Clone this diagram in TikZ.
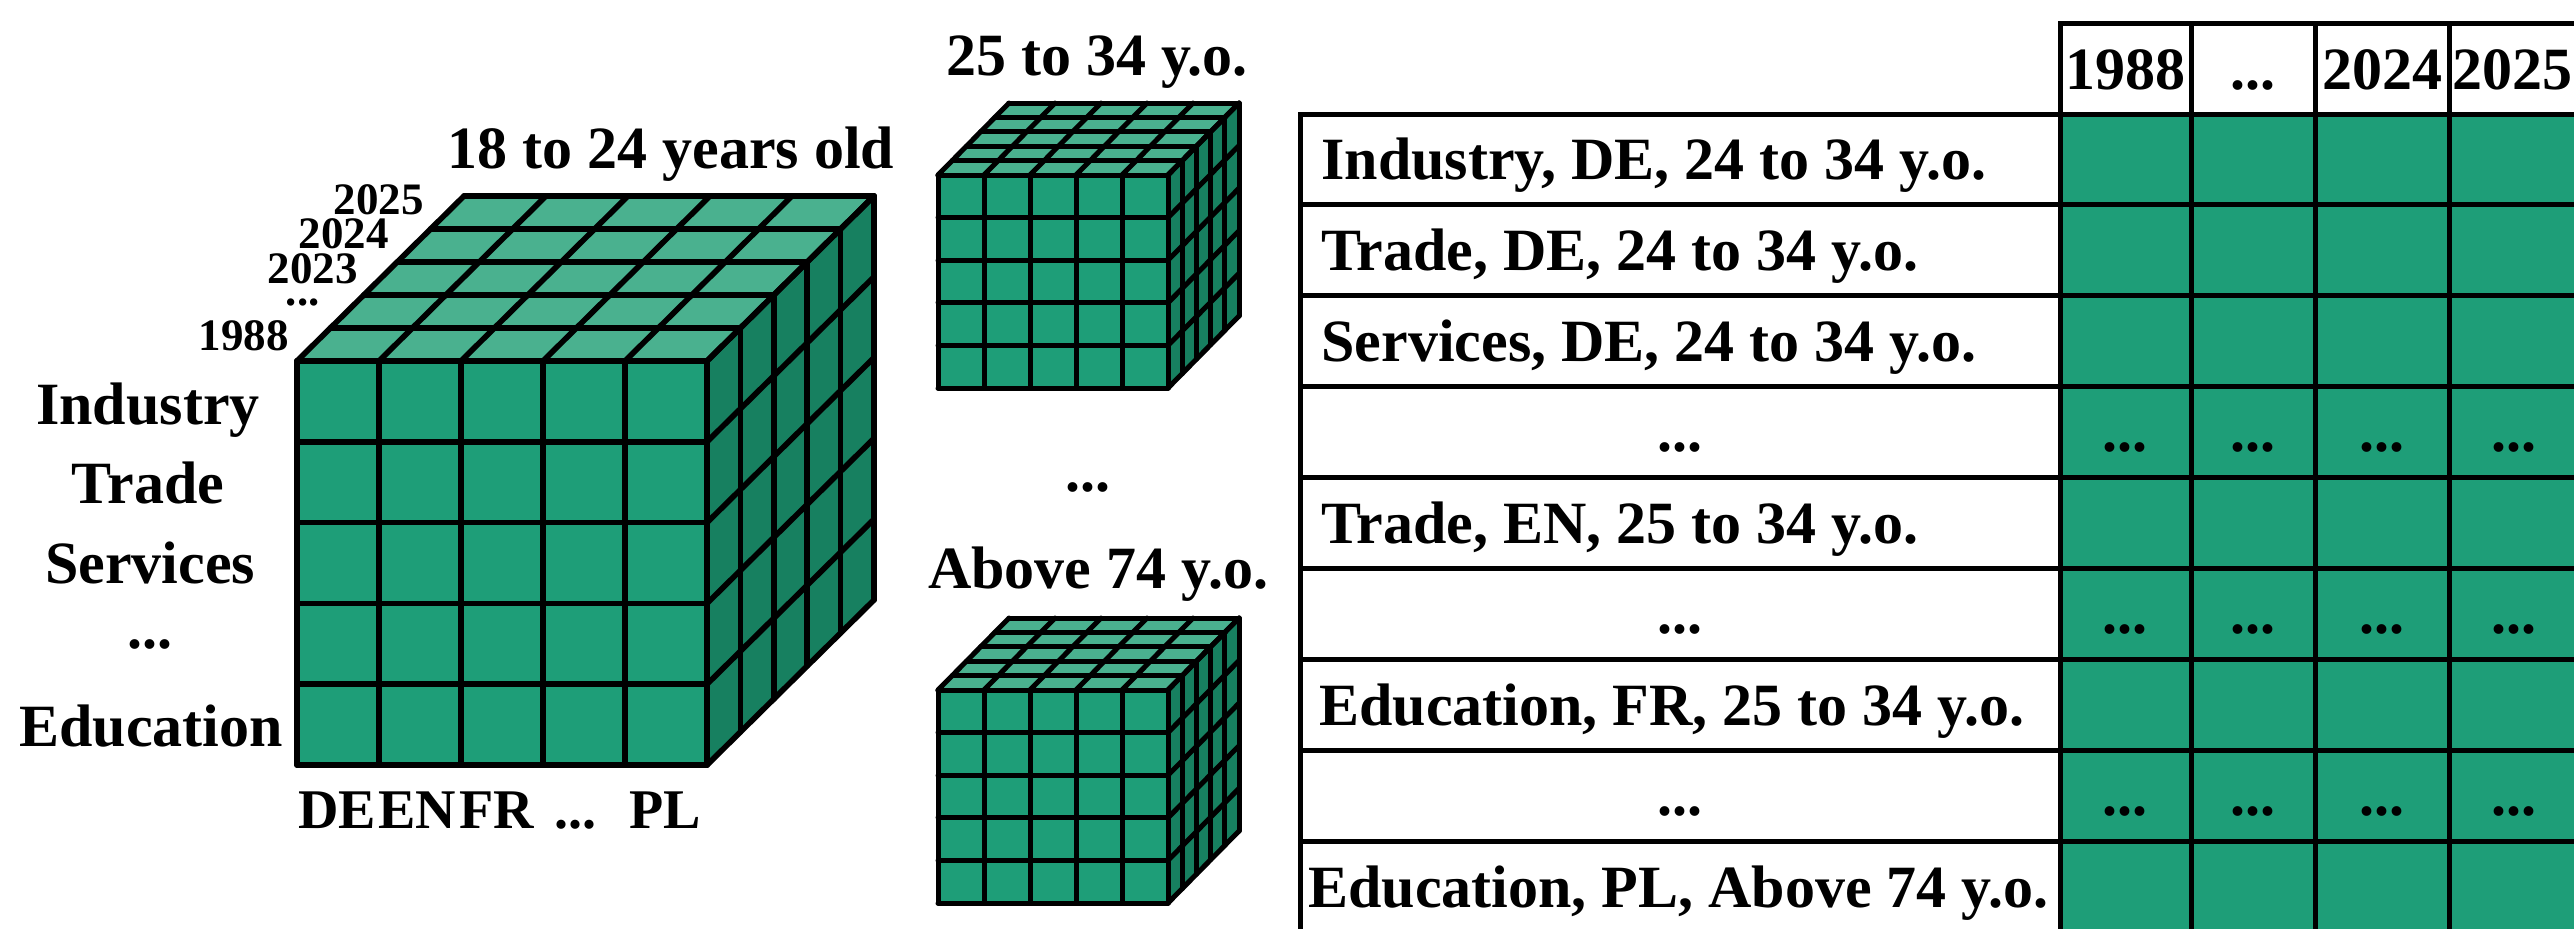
\documentclass[tikz,border=0pt]{standalone}
\usepackage{fontspec}
\setmainfont{Liberation Serif}
\definecolor{frontc}{RGB}{30,158,120}
\definecolor{topc}{RGB}{74,177,143}
\definecolor{sidec}{RGB}{23,128,96}
\tikzset{
  lbl/.style={inner sep=0pt, font=\fontsize{30}{36}\selectfont\bfseries},
  collbl/.style={inner sep=0pt, font=\fontsize{28}{34}\selectfont\bfseries},
  yrlbl/.style={inner sep=0pt, font=\fontsize{22.5}{27}\selectfont\bfseries},
  tline/.style={line width=2.5pt, line cap=rect},
}
% x0 y0 w h dx dy linewidth
\newcommand{\datacube}[7]{%
  \begin{scope}[line width=#7, line join=round, line cap=round]
    \fill[frontc] (#1,#2) rectangle (#1+#3,#2+#4);
    \fill[topc] (#1,#2) -- (#1+#3,#2) -- (#1+#3+#5,#2+#6) -- (#1+#5,#2+#6) -- cycle;
    \fill[sidec] (#1+#3,#2) -- (#1+#3+#5,#2+#6) -- (#1+#3+#5,#2+#6+#4) -- (#1+#3,#2+#4) -- cycle;
    \foreach \i in {0,...,5}{
      \draw (#1+\i*#3/5,#2) -- (#1+\i*#3/5,#2+#4);
      \draw (#1,#2+\i*#4/5) -- (#1+#3,#2+\i*#4/5);
      \draw (#1+\i*#3/5,#2) -- (#1+\i*#3/5+#5,#2+#6);
      \draw (#1+\i*#5/5,#2+\i*#6/5) -- (#1+#3+\i*#5/5,#2+\i*#6/5);
      \draw (#1+#3+\i*#5/5,#2+\i*#6/5) -- (#1+#3+\i*#5/5,#2+#4+\i*#6/5);
      \draw (#1+#3,#2+\i*#4/5) -- (#1+#3+#5,#2+\i*#4/5+#6);
    }
  \end{scope}}
\begin{document}
\begin{tikzpicture}[x=0.5pt, y=-0.5pt]
\useasboundingbox (0,0) rectangle (2574,928);
\clip (0,0) rectangle (2574,928);
\fill[white] (0,0) rectangle (2574,928);

% ---------- big cube ----------
\datacube{297}{361}{410}{404}{167}{-165}{2.8pt}
\node[lbl, anchor=base] (title1) at (671,168) {18 to 24 years old};
\node[yrlbl, anchor=base east] (y2025) at (424,214) {2025};
\node[yrlbl, anchor=base east] (y2024) at (389,248) {2024};
\node[yrlbl, anchor=base east] (y2023) at (358,283) {2023};
\node[yrlbl, anchor=base east] (ydots) at (320,305) {...};
\node[yrlbl, anchor=base east] (y1988) at (289,350) {1988};

\node[lbl, anchor=base] (rInd) at (148,424) {Industry};
\node[lbl, anchor=base] (rTra) at (148,503) {Trade};
\node[lbl, anchor=base] (rSer) at (150,583) {Services};
\node[lbl, anchor=base] (rDot) at (150,648) {...};
\node[lbl, anchor=base] (rEdu) at (151,746) {Education};

\node[collbl, anchor=base] (cDE) at (337,828) {DE};
\node[collbl, anchor=base] (cEN) at (417,828) {EN};
\node[collbl, anchor=base] (cFR) at (497,828) {FR};
\node[collbl, anchor=base] (cDot) at (575,828) {...};
\node[collbl, anchor=base] (cPL) at (665,828) {PL};

% ---------- small cubes ----------
\datacube{938}{175}{230}{213}{71}{-72}{2.5pt}
\node[lbl, anchor=base] (title2) at (1097,75) {25 to 34 y.o.};
\node[lbl, anchor=base] (midDots) at (1088,491) {...};
\datacube{938}{690}{230}{213}{71}{-72}{2.5pt}
\node[lbl, anchor=base] (title3) at (1098,588) {Above 74 y.o.};

% ---------- table ----------
\fill[frontc] (2060,114) rectangle (2640,940);
\foreach \yy in {114,204.9,295.8,386.7,477.6,568.5,659.4,750.3,841.2,932.1}{
  \draw[tline] (1300,\yy) -- (2640,\yy);
}
\draw[tline] (2060,23) -- (2640,23);
\draw[tline] (1300,114) -- (1300,940);
\foreach \xx in {2060,2191,2315,2449}{
  \draw[tline] (\xx,23) -- (\xx,940);
}
\node[lbl, anchor=base] (h1988) at (2125,89) {1988};
\node[lbl, anchor=base] (hdots) at (2253,89) {...};
\node[lbl, anchor=base] (h2024) at (2382,89) {2024};
\node[lbl, anchor=base] (h2025) at (2512,89) {2025};

\node[lbl, anchor=base west] (t1) at (1321,179) {Industry, DE, 24 to 34 y.o.};
\node[lbl, anchor=base west] (t2) at (1321,270) {Trade, DE, 24 to 34 y.o.};
\node[lbl, anchor=base west] (t3) at (1321,361) {Services, DE, 24 to 34 y.o.};
\node[lbl, anchor=base west] (t5) at (1321,543) {Trade, EN, 25 to 34 y.o.};
\node[lbl, anchor=base west] (t7) at (1319,725) {Education, FR, 25 to 34 y.o.};
\node[lbl, anchor=base west] (t9) at (1308,907) {Education, PL, Above 74 y.o.};
\foreach \yy/\nm in {451/a,633/b,815/c}{
  \node[lbl, anchor=base] (td\nm) at (1680,\yy) {...};
  \node[lbl, anchor=base] (td\nm1) at (2125,\yy) {...};
  \node[lbl, anchor=base] (td\nm2) at (2253,\yy) {...};
  \node[lbl, anchor=base] (td\nm3) at (2382,\yy) {...};
  \node[lbl, anchor=base] (td\nm4) at (2514,\yy) {...};
}
\end{tikzpicture}
\end{document}
